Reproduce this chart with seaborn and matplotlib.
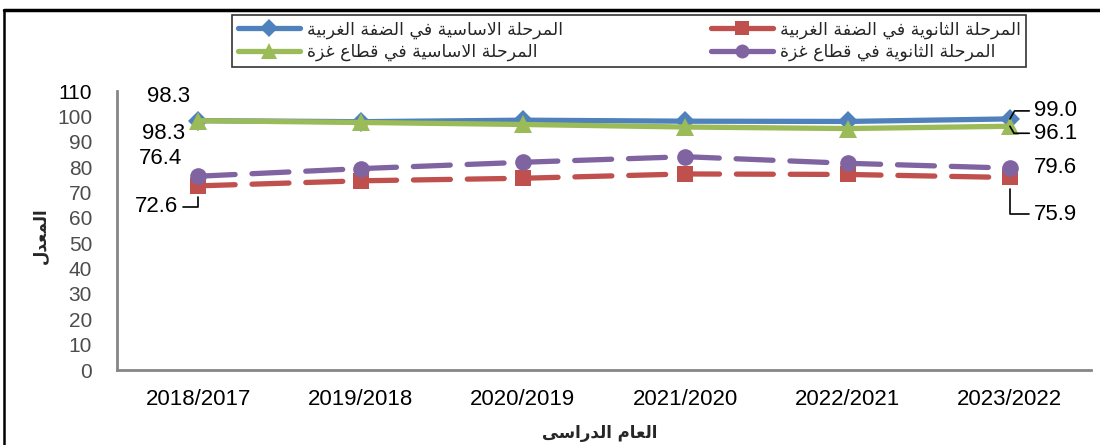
import matplotlib
matplotlib.use("Agg")
import matplotlib.pyplot as plt
import seaborn as sns
import pandas as pd
from matplotlib.lines import Line2D

# data
years = ["2018/2017", "2019/2018", "2020/2019", "2021/2020", "2022/2021", "2023/2022"]
basic_wb = [98.3, 97.9, 98.5, 98.1, 98.0, 99.0]
basic_gaza = [98.3, 97.6, 96.8, 95.8, 95.2, 96.1]
sec_wb = [72.6, 74.6, 75.6, 77.3, 77.1, 75.9]
sec_gaza = [76.4, 79.4, 81.9, 84.1, 81.5, 79.6]

names = ["المرحلة الاساسية في الضفة الغربية",
         "المرحلة الاساسية في قطاع غزة",
         "المرحلة الثانوية في الضفة الغربية",
         "المرحلة الثانوية في قطاع غزة"]
y_title = "المعدل"
x_title = "العام الدراسى"

# matplotlib has no arabic shaping, so map letters to presentation forms by hand
BASES = {'ا': (0xFE8D, 2), 'ب': (0xFE8F, 4), 'ة': (0xFE93, 2), 'ت': (0xFE95, 4), 'ث': (0xFE99, 4),
         'ج': (0xFE9D, 4), 'ح': (0xFEA1, 4), 'خ': (0xFEA5, 4), 'د': (0xFEA9, 2), 'ذ': (0xFEAB, 2),
         'ر': (0xFEAD, 2), 'ز': (0xFEAF, 2), 'س': (0xFEB1, 4), 'ش': (0xFEB5, 4), 'ص': (0xFEB9, 4),
         'ض': (0xFEBD, 4), 'ط': (0xFEC1, 4), 'ظ': (0xFEC5, 4), 'ع': (0xFEC9, 4), 'غ': (0xFECD, 4),
         'ف': (0xFED1, 4), 'ق': (0xFED5, 4), 'ك': (0xFED9, 4), 'ل': (0xFEDD, 4), 'م': (0xFEE1, 4),
         'ن': (0xFEE5, 4), 'ه': (0xFEE9, 4), 'و': (0xFEED, 2), 'ى': (0xFEEF, 2), 'ي': (0xFEF1, 4),
         'لا': (0xFEFB, 2)}

def shape(s):
    tokens = []
    i = 0
    while i < len(s):
        if s[i] == 'ل' and i + 1 < len(s) and s[i + 1] == 'ا':
            tokens.append('لا')
            i += 2
        else:
            tokens.append(s[i])
            i += 1
    out = []
    for k, t in enumerate(tokens):
        if t not in BASES:
            out.append(t)
            continue
        base, n = BASES[t]
        prev = tokens[k - 1] if k > 0 else None
        nxt = tokens[k + 1] if k + 1 < len(tokens) else None
        jp = prev in BASES and BASES[prev][1] == 4
        jn = n == 4 and nxt in BASES
        if jp and jn:
            out.append(chr(base + 3))
        elif jp:
            out.append(chr(base + 1))
        elif jn:
            out.append(chr(base + 2))
        else:
            out.append(chr(base))
    return "".join(out)[::-1]

sns.set_style("white")
plt.rcParams['font.family'] = ['Liberation Sans', 'DejaVu Sans']

colors = ["#4F81BD", "#9BBB59", "#C0504D", "#8064A2"]
markers = ["D", "^", "s", "o"]
msizes = [10, 13, 11, 12]
dashes = [(None, None), (None, None), (7, 3.2), (7, 3.2)]
series = [basic_wb, basic_gaza, sec_wb, sec_gaza]

fig = plt.figure(figsize=(11, 4.45), dpi=100)
ax = fig.add_axes([0.1064, 0.1685, 0.8855, 0.6270])

pos = list(range(len(years)))
for vals, col, mk, ms, ds in zip(series, colors, markers, msizes, dashes):
    df = pd.DataFrame({"x": pos, "y": vals})
    sns.lineplot(data=df, x="x", y="y", ax=ax, color=col, marker=mk, markersize=ms,
                 markeredgewidth=0, linewidth=3.8, legend=False)
    l = ax.get_lines()[-1]
    l.set_solid_capstyle("round")
    if ds[0] is not None:
        l.set_dashes(ds)
        l.set_dash_capstyle("round")

ax.set_xlim(-0.5, len(years) - 0.5)
ax.set_ylim(0, 110)
ax.set_yticks(range(0, 111, 10))
ax.set_xticks(pos)
ax.set_xticklabels(years, fontsize=16, color="black")
ax.tick_params(axis="y", labelsize=15, labelcolor="#4d4d4d", length=0, pad=18)
ax.tick_params(axis="x", length=0, pad=14)
ax.get_yticklabels()[-1].set_color("black")
for s in ["top", "right"]:
    ax.spines[s].set_visible(False)
for s in ["left", "bottom"]:
    ax.spines[s].set_color("#868686")
    ax.spines[s].set_linewidth(2)
ax.set_xlabel("")
ax.set_ylabel("")

fig.text(0.545, 0.027, shape(x_title), ha="center", va="center", fontsize=12, fontweight="bold",
         family="DejaVu Sans")
fig.text(0.037, 0.47, shape(y_title), ha="center", va="center", fontsize=12, fontweight="bold",
         rotation=90, family="DejaVu Sans")

# data labels
lab = dict(fontsize=16, color="black")
lead = dict(arrowstyle="-", color="black", lw=1.2, shrinkA=1, shrinkB=0)
ax.annotate(f"{basic_wb[0]:.1f}", (0, basic_wb[0]), xytext=(-30, 24), textcoords="offset pixels",
            ha="center", va="center", **lab)
ax.annotate(f"{basic_gaza[0]:.1f}", (0, basic_gaza[0]), xytext=(-35, -13), textcoords="offset pixels",
            ha="center", va="center", **lab)
ax.annotate(f"{sec_gaza[0]:.1f}", (0, sec_gaza[0]), xytext=(-38, 18), textcoords="offset pixels",
            ha="center", va="center", **lab)
ax.annotate(f"{sec_wb[0]:.1f}", (0, sec_wb[0]), xytext=(-42, -21), textcoords="offset pixels",
            ha="center", va="center",
            arrowprops=dict(connectionstyle="angle,angleA=0,angleB=90,rad=0", **lead) | {"shrinkB": 8}, **lab)
ax.annotate(f"{basic_wb[-1]:.1f}", (5, basic_wb[-1]), xytext=(24, 8), textcoords="offset pixels",
            ha="left", va="center",
            arrowprops=dict(connectionstyle="angle,angleA=0,angleB=60,rad=0", **lead), **lab)
ax.annotate(f"{basic_gaza[-1]:.1f}", (5, basic_gaza[-1]), xytext=(24, -7), textcoords="offset pixels",
            ha="left", va="center",
            arrowprops=dict(connectionstyle="angle,angleA=0,angleB=-60,rad=0", **lead), **lab)
ax.annotate(f"{sec_gaza[-1]:.1f}", (5, sec_gaza[-1]), xytext=(24, 1), textcoords="offset pixels",
            ha="left", va="center", **lab)
ax.annotate(f"{sec_wb[-1]:.1f}", (5, sec_wb[-1]), xytext=(24, -37), textcoords="offset pixels",
            ha="left", va="center",
            arrowprops=dict(connectionstyle="angle,angleA=0,angleB=90,rad=0", **lead) | {"shrinkB": 8}, **lab)

# legend
handles = []
for col, mk, ms in zip(colors, markers, [9, 11, 10, 10]):
    h = Line2D([], [], color=col, marker=mk, markersize=ms, markeredgewidth=0, linewidth=3.8,
               solid_capstyle="round")
    handles.append(h)
leg = fig.legend(handles, [shape(n) for n in names], ncol=2, loc="center",
                 bbox_to_anchor=(0.572, 0.908), frameon=True, fancybox=False,
                 edgecolor="black", handlelength=3.6, columnspacing=8.5, labelspacing=0.25,
                 borderpad=0.3, handletextpad=0.4, prop={"family": "DejaVu Sans", "size": 12.5})
leg.get_frame().set_linewidth(1.2)

# outer frame of the chart
fig.add_artist(Line2D([0.004, 1.0], [0.977, 0.977], color="black", lw=2.5, transform=fig.transFigure))
fig.add_artist(Line2D([0.004, 0.004], [0.0, 0.977], color="black", lw=1.8, transform=fig.transFigure))

fig.savefig("out.png", dpi=100)
